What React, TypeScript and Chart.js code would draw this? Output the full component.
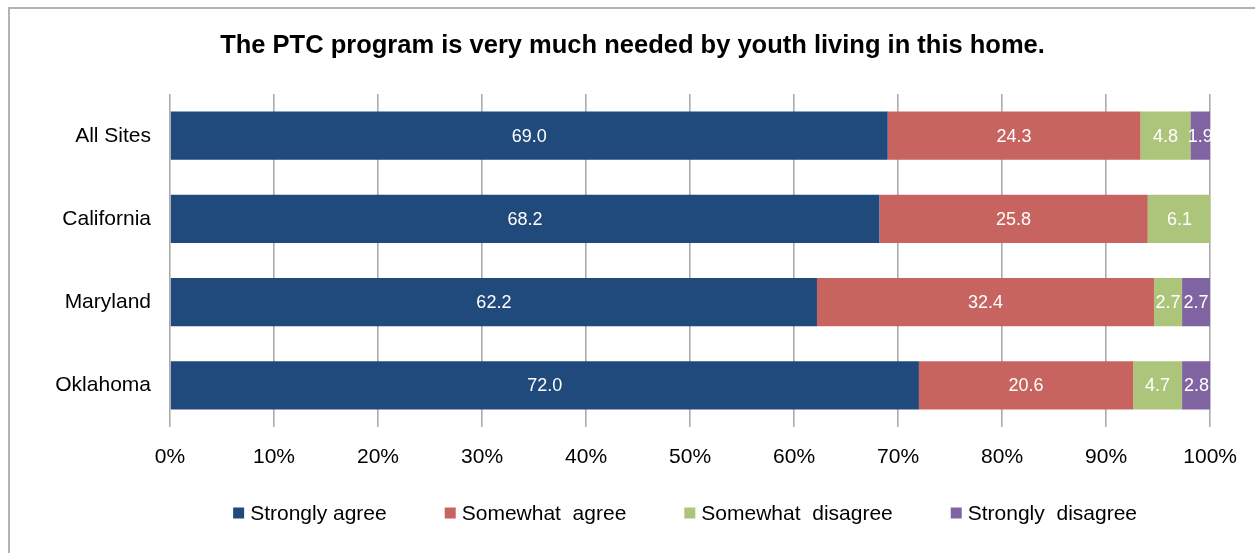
import React, { useEffect, useRef } from "react";
import { Chart, registerables } from "chart.js";

Chart.register(...registerables);

const categories = ["All Sites", "California", "Maryland", "Oklahoma"];
const seriesNames = ["Strongly agree", "Somewhat  agree", "Somewhat  disagree", "Strongly  disagree"];
const stronglyAgree = [69.0, 68.2, 62.2, 72.0];
const somewhatAgree = [24.3, 25.8, 32.4, 20.6];
const somewhatDisagree = [4.8, 6.1, 2.7, 4.7];
const stronglyDisagree = [1.9, 0, 2.7, 2.8];
const seriesColors = ["#214A7C", "#C8645F", "#ADC57A", "#8064A2"];
const xTicks = [0, 10, 20, 30, 40, 50, 60, 70, 80, 90, 100];
const titleText = "The PTC program is very much needed by youth living in this home.";

const FONT = "'Liberation Sans', Arial, sans-serif";

const valueLabels = {
  id: "valueLabels",
  afterDatasetsDraw(chart: any) {
    const ctx = chart.ctx;
    ctx.save();
    ctx.font = `18px ${FONT}`;
    ctx.fillStyle = "#ffffff";
    ctx.textAlign = "center";
    ctx.textBaseline = "middle";
    chart.data.datasets.forEach((ds: any, di: number) => {
      const meta = chart.getDatasetMeta(di);
      meta.data.forEach((el: any, i: number) => {
        const v = ds.data[i];
        if (!v) return;
        const p = el.getCenterPoint();
        ctx.fillText(v.toFixed(1), p.x, p.y + 1);
      });
    });
    ctx.restore();
  },
};

const customLegend = {
  id: "customLegend",
  afterDraw(chart: any) {
    const ctx = chart.ctx;
    const ca = chart.chartArea;
    const fontSize = 21;
    const box = 11;
    const gap = 6;
    const spacing = 58;
    ctx.save();
    ctx.font = `${fontSize}px ${FONT}`;
    ctx.textBaseline = "middle";
    ctx.textAlign = "left";
    const items = chart.data.datasets.map((ds: any) => ({
      text: ds.label,
      color: ds.backgroundColor,
      w: box + gap + ctx.measureText(ds.label).width,
    }));
    const total = items.reduce((s: number, it: any) => s + it.w, 0) + spacing * (items.length - 1);
    let x = (ca.left + ca.right) / 2 - 5 - total / 2;
    const y = ca.bottom + 86;
    items.forEach((it: any) => {
      ctx.fillStyle = it.color;
      ctx.fillRect(x, y - box / 2, box, box);
      ctx.fillStyle = "#000000";
      ctx.fillText(it.text, x + box + gap, y + 1);
      x += it.w + spacing;
    });
    ctx.restore();
  },
};

export default function App() {
  const canvasRef = useRef<HTMLCanvasElement | null>(null);

  useEffect(() => {
    if (!canvasRef.current) return;
    const series = [stronglyAgree, somewhatAgree, somewhatDisagree, stronglyDisagree];
    const chart = new Chart(canvasRef.current, {
      type: "bar",
      data: {
        labels: categories,
        datasets: series.map((d, i) => ({
          label: seriesNames[i],
          data: d,
          backgroundColor: seriesColors[i],
          borderWidth: 0,
          barPercentage: 0.58,
          categoryPercentage: 1,
        })),
      },
      options: {
        indexAxis: "y",
        animation: false,
        responsive: true,
        maintainAspectRatio: false,
        layout: { padding: { left: 44, right: 44, top: 0, bottom: 66 } },
        plugins: {
          legend: { display: false },
          tooltip: { enabled: false },
          title: {
            display: true,
            text: titleText,
            color: "#000000",
            font: { family: FONT, size: 25.5, weight: "bold" },
            padding: { top: 21.5, bottom: 33 },
          },
        },
        scales: {
          x: {
            stacked: true,
            min: 0,
            max: 100,
            afterBuildTicks: (scale: any) => {
              scale.ticks = xTicks.map((v) => ({ value: v }));
            },
            afterFit: (scale: any) => {
              scale.height = 60;
            },
            grid: { color: "#ABABAB", lineWidth: 1.6, drawTicks: false },
            border: { display: false },
            ticks: {
              color: "#000000",
              font: { family: FONT, size: 21 },
              padding: 18,
              maxRotation: 0,
              callback: (v: any) => `${v}%`,
            },
          },
          y: {
            stacked: true,
            afterFit: (scale: any) => {
              scale.width = 116;
            },
            grid: { display: false, drawTicks: false },
            border: { display: false },
            ticks: {
              color: "#000000",
              font: { family: FONT, size: 21 },
              padding: 19,
            },
          },
        },
      },
      plugins: [valueLabels, customLegend],
    });
    return () => chart.destroy();
  }, []);

  return (
    <div
      style={{
        position: "fixed",
        left: 8,
        top: 7,
        width: 1247,
        height: 546,
        boxSizing: "border-box",
        borderLeft: "2px solid #B3B3B3",
        borderTop: "2px solid #B3B3B3",
        background: "#ffffff",
      }}
    >
      <div style={{ position: "relative", width: 1245, height: 544 }}>
        <canvas ref={canvasRef} />
      </div>
    </div>
  );
}
